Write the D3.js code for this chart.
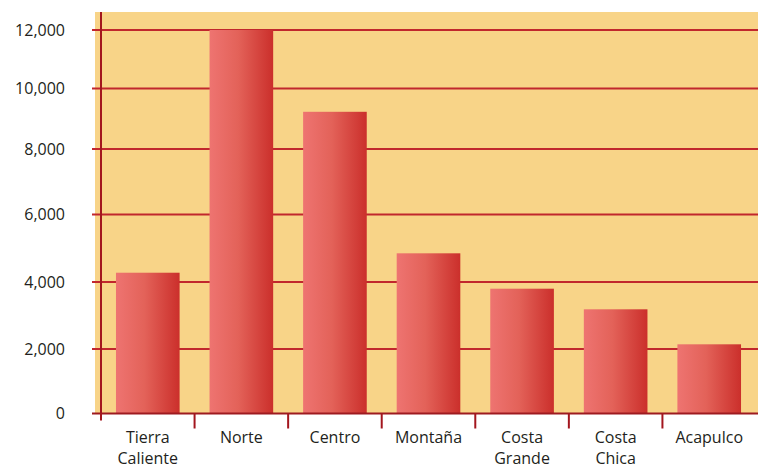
<!DOCTYPE html>
<html>
<head>
<meta charset="utf-8">
<script src="https://cdn.jsdelivr.net/npm/d3@7/dist/d3.min.js"></script>
<style>
  html, body { margin: 0; padding: 0; background: #ffffff; }
  svg { display: block; }
  text { font-family: "Open Sans", "Noto Sans", sans-serif; fill: #231f20; }
</style>
</head>
<body>
<svg id="chart" width="758" height="469"></svg>
<script>
// Regions of Guerrero and their values
const regions = [
  ["Tierra", "Caliente"],
  ["Norte"],
  ["Centro"],
  ["Montaña"],
  ["Costa", "Grande"],
  ["Costa", "Chica"],
  ["Acapulco"]
];
const values = [4275, 12000, 9230, 4850, 3800, 3185, 2140];
const yTicks = [0, 2000, 4000, 6000, 8000, 10000, 12000];
const yTickLabels = ["0", "2,000", "4,000", "6,000", "8,000", "10,000", "12,000"];

const svg = d3.select("#chart");
const W = 758;

const plot = { left: 101, right: 756, top: 12, bottom: 413.5 };

// The printed axis has slightly uneven spacing between its gridlines,
// so the value scale is piecewise linear through each tick.
const y = d3.scaleLinear()
  .domain(yTicks)
  .range([413.5, 349, 282, 214.5, 149, 88.5, 30]);

const keys = regions.map(r => r.join(" "));
const x = d3.scaleBand()
  .domain(keys)
  .range([plot.left, plot.right])
  .paddingInner(0.32)
  .paddingOuter(0.16);

// Bar gradient: light on the left, deeper red on the right
const defs = svg.append("defs");
const grad = defs.append("linearGradient")
  .attr("id", "barGrad")
  .attr("x1", "0%").attr("x2", "100%")
  .attr("y1", "0%").attr("y2", "0%");
grad.append("stop").attr("offset", "0%").attr("stop-color", "#ee7471");
grad.append("stop").attr("offset", "45%").attr("stop-color", "#e36259");
grad.append("stop").attr("offset", "100%").attr("stop-color", "#cb2f2b");

// Plot background
svg.append("rect")
  .attr("x", 95).attr("y", plot.top)
  .attr("width", W - 95).attr("height", plot.bottom - plot.top)
  .attr("fill", "#f8d488");

// Horizontal gridlines
svg.append("g")
  .selectAll("line")
  .data(yTicks.filter(d => d > 0))
  .join("line")
  .attr("x1", 92).attr("x2", W)
  .attr("y1", d => y(d)).attr("y2", d => y(d))
  .attr("stroke", "#c1272d")
  .attr("stroke-width", 2);

// Bars
svg.append("g")
  .selectAll("rect")
  .data(values)
  .join("rect")
  .attr("x", (d, i) => x(keys[i]))
  .attr("y", d => y(d))
  .attr("width", x.bandwidth())
  .attr("height", d => y(0) - y(d))
  .attr("fill", "url(#barGrad)");

// Baseline
svg.append("line")
  .attr("x1", 92).attr("x2", W)
  .attr("y1", y(0)).attr("y2", y(0))
  .attr("stroke", "#9e1b20")
  .attr("stroke-width", 2);

// Vertical axis line
svg.append("line")
  .attr("x1", plot.left).attr("x2", plot.left)
  .attr("y1", plot.top).attr("y2", y(0) + 7)
  .attr("stroke", "#a3161e")
  .attr("stroke-width", 2);

// Category separators below the baseline
const step = x.step();
const gap = step * x.paddingInner() / 2;
svg.append("g")
  .selectAll("line")
  .data(keys.slice(1))
  .join("line")
  .attr("x1", d => x(d) - gap).attr("x2", d => x(d) - gap)
  .attr("y1", y(0)).attr("y2", y(0) + 15)
  .attr("stroke", "#a3161e")
  .attr("stroke-width", 2);

// Y tick labels
svg.append("g")
  .selectAll("text")
  .data(yTicks)
  .join("text")
  .attr("x", 65)
  .attr("y", d => y(d))
  .attr("dy", "0.36em")
  .attr("text-anchor", "end")
  .attr("font-size", 16)
  .text((d, i) => yTickLabels[i]);

// Category labels (one or two lines)
const xl = svg.append("g")
  .selectAll("text")
  .data(regions)
  .join("text")
  .attr("x", (d, i) => x(keys[i]) + x.bandwidth() / 2)
  .attr("y", 443)
  .attr("text-anchor", "middle")
  .attr("font-size", 16);
xl.selectAll("tspan")
  .data(d => d)
  .join("tspan")
  .attr("x", function() { return d3.select(this.parentNode).attr("x"); })
  .attr("dy", (d, i) => i === 0 ? 0 : 21)
  .text(d => d);
</script>
</body>
</html>
